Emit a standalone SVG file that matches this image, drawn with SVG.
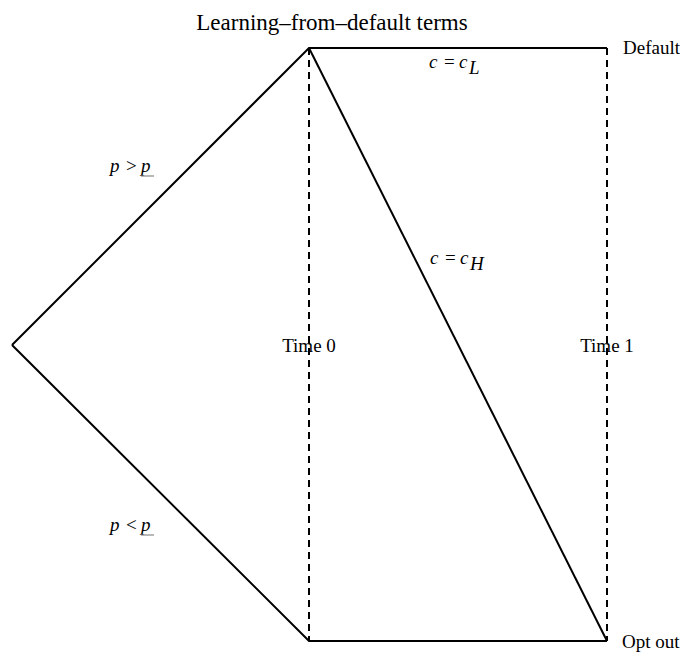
<svg xmlns="http://www.w3.org/2000/svg" width="680" height="653" viewBox="0 0 680 653">
<style>
.ln{stroke:#000;stroke-width:2;fill:none}
.ds{stroke:#000;stroke-width:2;fill:none;stroke-dasharray:7,5}
text{font-family:"Liberation Serif","Times New Roman",serif;font-size:19px;fill:#000}
.it{font-style:italic}
.title{font-size:23px}
.ul{stroke:#888;stroke-width:1.2}
</style>
<rect width="680" height="653" fill="#fff"/>
<text class="title" x="332" y="30" text-anchor="middle">Learning–from–default terms</text>
<g id="connectors">
<line class="ds" x1="309" y1="48" x2="309" y2="641"/>
<line class="ds" x1="607" y1="48" x2="607" y2="641"/>
<path class="ln" d="M12,345 L309,48 L607,48"/>
<path class="ln" d="M12,345 L309,641 L607,641"/>
<line class="ln" x1="309" y1="48" x2="607" y2="641"/>
</g>
<g id="labels">
<text x="110" y="172" class="it">p</text><text x="126" y="172">&gt;</text><text x="141" y="172" class="it">p</text>
<line class="ul" x1="141" y1="176" x2="154" y2="176"/>
<text x="110" y="531" class="it">p</text><text x="126" y="531">&lt;</text><text x="141" y="531" class="it">p</text>
<line class="ul" x1="141" y1="535" x2="154" y2="535"/>
<text x="429" y="68" class="it">c</text><text x="444" y="68">=</text><text x="459" y="68" class="it">c</text><text x="469" y="74" class="it">L</text>
<text x="430" y="264" class="it">c</text><text x="445" y="264">=</text><text x="460" y="264" class="it">c</text><text x="470" y="270" class="it">H</text>
</g>
<g id="time0"><text x="309" y="352" text-anchor="middle">Time 0</text></g>
<g id="time1"><text x="607" y="352" text-anchor="middle">Time 1</text></g>
<g id="default"><text x="623" y="54">Default</text></g>
<g id="optout"><text x="622" y="648">Opt out</text></g>
</svg>
